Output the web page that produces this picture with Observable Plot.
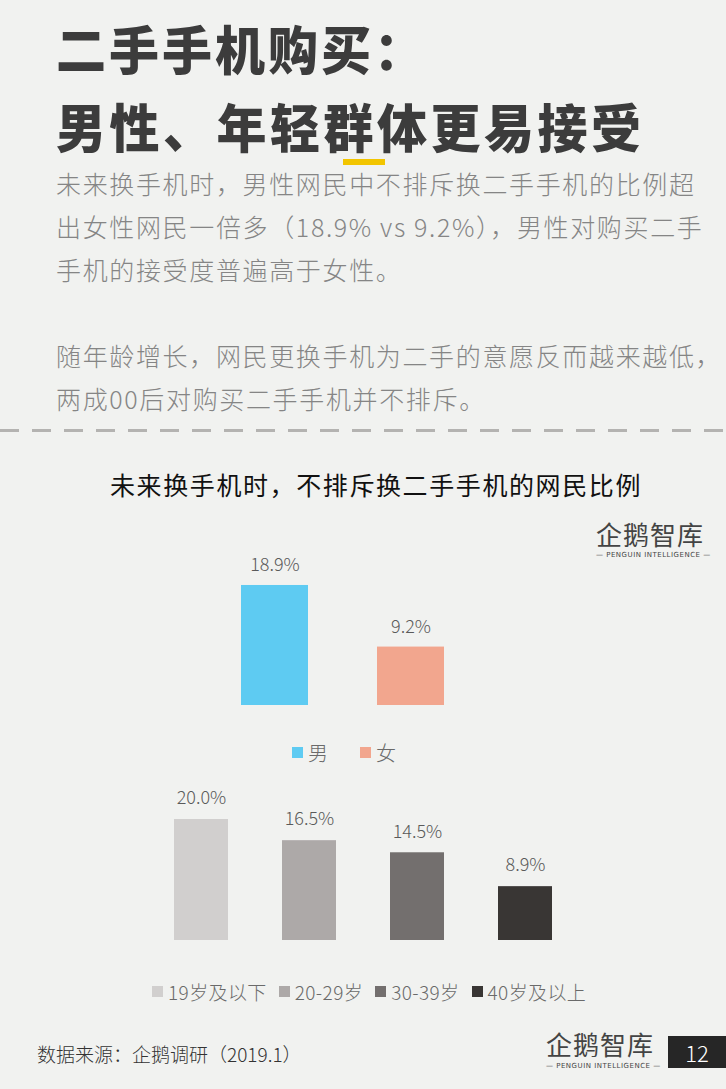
<!DOCTYPE html>
<html>
<head>
<meta charset="utf-8">
<script src="https://cdn.jsdelivr.net/npm/d3@7"></script>
<script src="https://cdn.jsdelivr.net/npm/@observablehq/plot@0.6"></script>
<style>
  html, body { margin:0; padding:0; }
  body { width:726px; height:1089px; background:#f1f2f0; position:relative; overflow:hidden;
         font-family:"Noto Sans CJK SC","Noto Sans",sans-serif; }
  .abs { position:absolute; white-space:nowrap; }
  .h1 { left:56px; font-size:50px; font-weight:900; color:#3c3c3c; letter-spacing:3px; line-height:1; transform-origin:left center; }
  .p { left:56px; font-size:25px; font-weight:300; color:#858585; letter-spacing:1.65px; line-height:1; }
  .legend { display:flex; align-items:center; font-weight:300; color:#6a6a6a; }
  .legend .item { display:flex; align-items:center; }
  .legend .sw { display:inline-block; width:11px; height:11px; margin-right:5px; }
</style>
</head>
<body>
<div class="abs h1" style="top:22px; transform:scaleY(1.05);">二手手机购买：</div>
<div class="abs h1" style="top:100px; transform:scaleY(1.05); letter-spacing:3.5px;">男性、年轻群体更易接受</div>
<div class="abs" style="left:343px; top:159px; width:42px; height:6px; background:#f2c500;"></div>

<div class="abs p" style="top:171px;">未来换手机时，男性网民中不排斥换二手手机的比例超</div>
<div class="abs p" style="top:214px;">出女性网民一倍多（18.9% vs 9.2%），男性对购买二手</div>
<div class="abs p" style="top:257px;">手机的接受度普遍高于女性。</div>
<div class="abs p" style="top:343px;">随年龄增长，网民更换手机为二手的意愿反而越来越低，</div>
<div class="abs p" style="top:386px;">两成00后对购买二手手机并不排斥。</div>

<div class="abs" style="left:0; top:429px; width:726px; height:3px; background:repeating-linear-gradient(90deg,#b4b3b1 0 19px,transparent 19px 32px);"></div>

<div class="abs" style="left:0; width:752px; top:466px; text-align:center; font-size:25px; font-weight:400; letter-spacing:1.6px; color:#111;">未来换手机时，不排斥换二手手机的网民比例</div>

<div class="abs" style="left:596px; top:517px; width:108px; text-align:center; color:#444;">
  <div style="font-size:26px; line-height:34px; letter-spacing:1px;">企鹅智库</div>
  <div style="font-size:7px; line-height:9px; letter-spacing:0.5px; font-family:'DejaVu Sans';">— PENGUIN INTELLIGENCE —</div>
</div>

<div id="chart1" class="abs" style="left:0; top:540px;"></div>
<div id="legend1" class="abs legend" style="left:292px; top:738px; font-size:20px;"></div>

<div id="chart2" class="abs" style="left:0; top:780px;"></div>
<div id="legend2" class="abs legend" style="left:152px; top:978px; font-size:19px;"></div>

<div class="abs" style="left:37px; top:1040px; font-size:19px; font-weight:300; color:#333;">数据来源：企鹅调研（2019.1）</div>
<div class="abs" style="left:546px; top:1026px; width:108px; text-align:center; color:#444;">
  <div style="font-size:26px; line-height:36px; letter-spacing:1px;">企鹅智库</div>
  <div style="font-size:7px; line-height:9px; letter-spacing:0.5px; font-family:'DejaVu Sans';">— PENGUIN INTELLIGENCE —</div>
</div>
<div class="abs" style="left:668px; top:1036px; width:58px; height:32px; background:#262626; color:#fff; font-size:22px; line-height:32px; text-align:center; font-weight:300;">12</div>

<script>
// ---- data ----
const genderCats = ["男", "女"];
const genderValues = [18.9, 9.2];
const genderColors = ["#5ecbf2", "#f2a68e"];

const ageCats = ["19岁及以下", "20-29岁", "30-39岁", "40岁及以上"];
const ageValues = [20.0, 16.5, 14.5, 8.9];
const ageColors = ["#d1cfce", "#ada9a8", "#736f6e", "#393634"];

const genderData = genderCats.map((c, i) => ({cat: c, value: genderValues[i]}));
const ageData = ageCats.map((c, i) => ({cat: c, value: ageValues[i]}));

const font = '"Noto Sans CJK SC", "Noto Sans", sans-serif';

const chart1 = Plot.plot({
  width: 726, height: 165,
  marginTop: 38, marginBottom: 0, marginLeft: 171, marginRight: 212,
  x: {domain: genderCats, padding: 0.504, axis: null},
  y: {domain: [0, 20], axis: null},
  color: {domain: genderCats, range: genderColors},
  style: {background: "transparent", fontFamily: font, overflow: "visible"},
  marks: [
    Plot.barY(genderData, {x: "cat", y: "value", fill: "cat"}),
    Plot.text(genderData, {x: "cat", y: "value", text: d => d.value.toFixed(1) + "%",
      dy: -20, fontSize: 18, fontWeight: 300, fill: "#5a5a5a"})
  ]
});
document.getElementById("chart1").appendChild(chart1);

const chart2 = Plot.plot({
  width: 726, height: 160,
  marginTop: 39, marginBottom: 0, marginLeft: 118, marginRight: 118,
  x: {domain: ageCats, padding: 0.503, axis: null},
  y: {domain: [0, 20], axis: null},
  color: {domain: ageCats, range: ageColors},
  style: {background: "transparent", fontFamily: font, overflow: "visible"},
  marks: [
    Plot.barY(ageData, {x: "cat", y: "value", fill: "cat"}),
    Plot.text(ageData, {x: "cat", y: "value", text: d => d.value.toFixed(1) + "%",
      dy: -21, fontSize: 18, fontWeight: 300, fill: "#5a5a5a"})
  ]
});
document.getElementById("chart2").appendChild(chart2);

function legend(el, cats, scale, gap, ls) {
  cats.forEach((c, i) => {
    const item = document.createElement("div");
    item.className = "item";
    if (i > 0) item.style.marginLeft = gap + "px";
    const sw = document.createElement("span");
    sw.className = "sw";
    sw.style.background = scale.apply(c);
    const t = document.createElement("span");
    t.textContent = c;
    t.style.letterSpacing = ls + "px";
    item.appendChild(sw); item.appendChild(t);
    el.appendChild(item);
  });
}
legend(document.getElementById("legend1"), genderCats, chart1.scale("color"), 32, 0);
legend(document.getElementById("legend2"), ageCats, chart2.scale("color"), 12, 0.4);
</script>
</body>
</html>
